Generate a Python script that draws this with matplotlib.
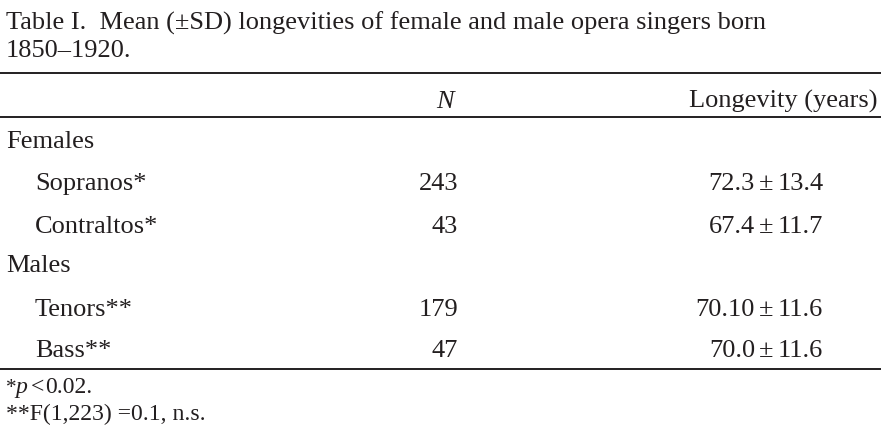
import matplotlib.pyplot as plt

# table contents
title_lines = ["Table I.  Mean (\u00b1SD) longevities of female and male opera singers born",
               "1850\u20131920."]
col_n = "N"
col_long = "Longevity (years)"
groups = ["Females", "Males"]
group_rows = [["Sopranos*", "Contraltos*"], ["Tenors**", "Bass**"]]
group_n = [[243, 43], [179, 47]]
group_mean = [["72.3", "67.4"], ["70.10", "70.0"]]
group_sd = [["13.4", "11.7"], ["11.6", "11.6"]]
footnotes = ["*", "**F(1,223) =0.1, n.s."]

plt.rcParams['font.family'] = ['Liberation Serif', 'DejaVu Serif']
FS = 19
TXT = '#231f20'

fig = plt.figure(figsize=(8.86, 4.44), dpi=100)
ax = fig.add_axes([0, 0, 1, 1])
ax.set_xlim(0, 886)
ax.set_ylim(444, 0)
ax.axis('off')

# title
ax.text(6, 30, title_lines[0], fontsize=FS, color=TXT, va='baseline')
ax.text(6, 57, title_lines[1], fontsize=FS, color=TXT, va='baseline')

# rules
for y in [73, 117, 369]:
    ax.plot([0, 881], [y, y], color=TXT, lw=1.4, solid_capstyle='butt')

# header
ax.text(445, 108, col_n, fontsize=FS, color=TXT, va='baseline', ha='center',
        style='italic')
ax.text(878, 108, col_long, fontsize=FS, color=TXT, va='baseline', ha='right')

group_y = [148, 272]
row_y = [[190, 233], [316, 357]]
for g, name in enumerate(groups):
    ax.text(6, group_y[g], name, fontsize=FS, color=TXT, va='baseline')
    for r, label in enumerate(group_rows[g]):
        y = row_y[g][r]
        ax.text(35, y, label, fontsize=FS, color=TXT, va='baseline')
        ax.text(458, y, str(group_n[g][r]), fontsize=FS, color=TXT,
                va='baseline', ha='right')
        ax.text(755, y, group_mean[g][r], fontsize=FS, color=TXT,
                va='baseline', ha='right')
        ax.text(766, y, "\u00b1", fontsize=FS, color=TXT,
                va='baseline', ha='center')
        ax.text(778, y, group_sd[g][r], fontsize=FS, color=TXT,
                va='baseline', ha='left')

# footnotes
ax.text(6, 393, footnotes[0], fontsize=FS * 0.8, color=TXT, va='baseline')
ax.text(15, 393, "p", fontsize=FS * 0.9, color=TXT, va='baseline', style='italic')
ax.text(31, 393, "<", fontsize=FS * 0.9, color=TXT, va='baseline')
ax.text(45, 393, "0.02.", fontsize=FS * 0.9, color=TXT, va='baseline')
ax.text(6, 420, footnotes[1], fontsize=FS * 0.9, color=TXT, va='baseline')

fig.savefig('out.png', dpi=100)
